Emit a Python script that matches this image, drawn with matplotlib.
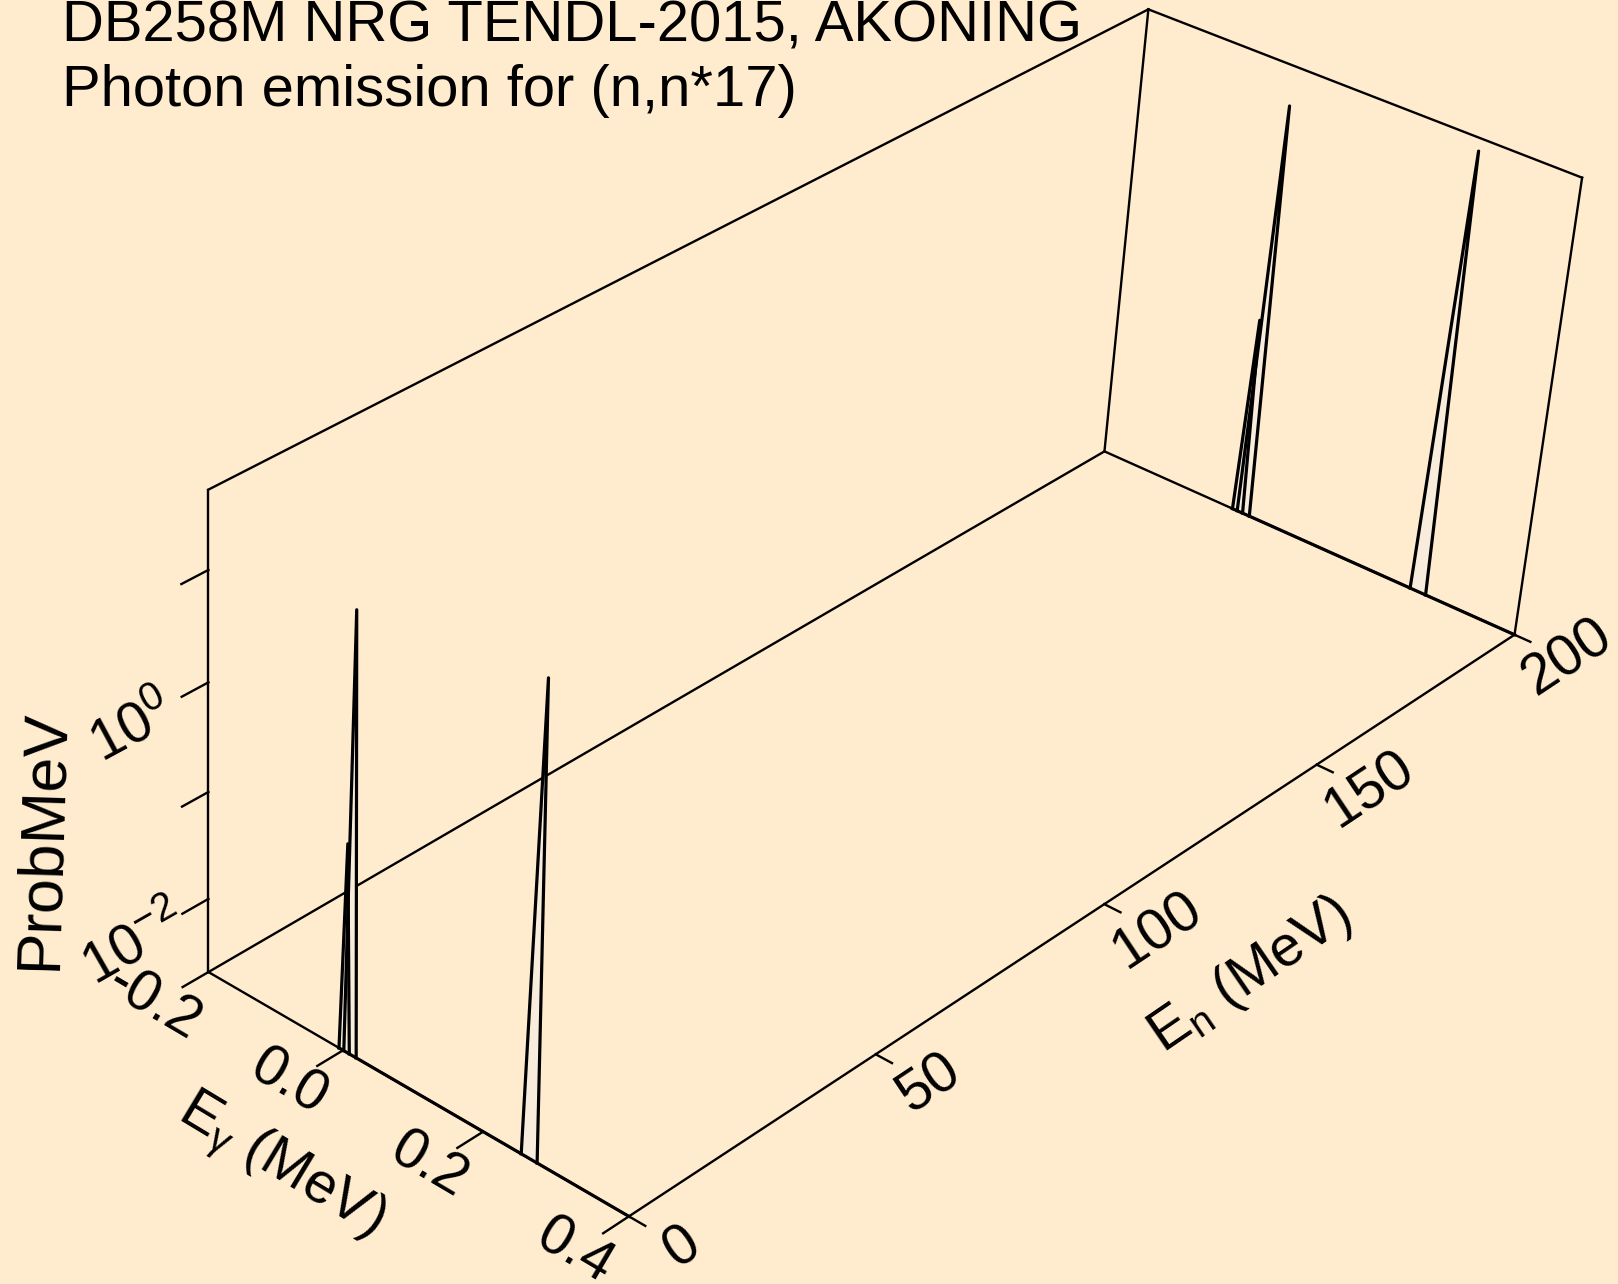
import numpy as np
import matplotlib
matplotlib.use("Agg")
import matplotlib.pyplot as plt
from mpl_toolkits.mplot3d.art3d import Poly3DCollection

plt.rcParams['font.family'] = ['Liberation Sans', 'DejaVu Sans']
plt.rcParams['mathtext.fontset'] = 'custom'
plt.rcParams['mathtext.rm'] = 'Liberation Sans'
plt.rcParams['mathtext.it'] = 'Liberation Sans:italic'
plt.rcParams['mathtext.bf'] = 'Liberation Sans:bold'

bg = '#ffebcd'
fill = '#f8ecdc'

# photon spectrum, same lines at both incident energies
en_curves = [0.0, 200.0]            # E_n of each curve (MeV)
line_lo = [-0.006, 0.001, 0.253]    # E_gamma where a line leaves the floor
line_pk = [0.002, 0.009, 0.265]     # E_gamma at the top of the line
line_hi = [0.009, 0.019, 0.275]     # E_gamma where it is back on the floor
line_prob = [0.17, 21.0, 38.0]      # prob/MeV at the top

eg_lim = [-0.2, 0.4]
en_lim = [0.0, 200.0]
prob_lim = [2e-3, 50.0]
eg_ticks = [-0.2, 0.0, 0.2, 0.4]
eg_labels = ['-0.2', '0.0', '0.2', '0.4']
en_ticks = [0, 50, 100, 150, 200]
p_ticks = [1e-2, 1e-1, 1e0, 1e1]
p_labels = {1e-2: '10$^{-2}$', 1e0: '10$^{0}$'}

zlo, zhi = np.log10(prob_lim)

fig = plt.figure(figsize=(16.18, 12.84), dpi=100, facecolor=bg)
# camera looks at the left vertical edge, not at the box centre
ax = fig.add_axes([-0.208338, -0.017960, 0.656588, 0.827383], projection='3d',
                  computed_zorder=False)
ax.set_facecolor(bg)
ax.set_axis_off()

# box shape and look-at point (fractions of the drawn box)
box = np.array([1.0, 2.6, 1.0])
look = np.array([0.0, 0.0, 0.45])
lo = np.array([eg_lim[0], en_lim[0], zlo])
hi = np.array([eg_lim[1], en_lim[1], zhi])
rng = hi - lo
ctr = lo + look * rng
half = np.maximum(ctr - lo, hi - ctr)
ax.set_xlim(ctr[0] - half[0], ctr[0] + half[0])
ax.set_ylim(ctr[1] - half[1], ctr[1] + half[1])
ax.set_zlim(ctr[2] - half[2], ctr[2] + half[2])
aspect = 2 * half / rng * box
# one box width = one world unit, so the eye (dist 10) is 10 box widths away
ax.set_box_aspect(aspect, zoom=np.linalg.norm(aspect) / (1.8294640721620434 * 25 / 24))
ax.view_init(elev=33.4, azim=-45)
ax.set_proj_type('persp')

x0, x1 = eg_lim
y0, y1 = en_lim
lw_box = 1.7
edges = [
    ([x0, x1], [y0, y0], [zlo, zlo]),
    ([x1, x1], [y0, y1], [zlo, zlo]),
    ([x0, x0], [y0, y1], [zlo, zlo]),
    ([x0, x1], [y1, y1], [zlo, zlo]),
    ([x0, x0], [y0, y0], [zlo, zhi]),
    ([x0, x0], [y1, y1], [zlo, zhi]),
    ([x1, x1], [y1, y1], [zlo, zhi]),
    ([x0, x0], [y0, y1], [zhi, zhi]),
    ([x0, x1], [y1, y1], [zhi, zhi]),
]
for xs, ys, zs in edges:
    ax.plot(xs, ys, zs, color='black', lw=lw_box, zorder=2, clip_on=False)

# ticks
for e in eg_ticks:
    ax.plot([e, e], [y0, y0 - 5], [zlo, zlo], color='black', lw=lw_box, zorder=2, clip_on=False)
for en in en_ticks:
    ax.plot([x1, x1 + 0.022], [en, en], [zlo, zlo], color='black', lw=lw_box, zorder=2, clip_on=False)
for p in p_ticks:
    lz = np.log10(p)
    ax.plot([x0, x0], [y0, y0 - 5], [lz, lz], color='black', lw=lw_box, zorder=2, clip_on=False)

# spectra
for en in en_curves:
    ax.plot([min(line_lo), x1], [en, en], [zlo, zlo], color='black', lw=2.3, zorder=4, clip_on=False)
    for a, b, c, p in zip(line_lo, line_pk, line_hi, line_prob):
        xs = [a, b, c]
        ys = [en, en, en]
        zs = [zlo, np.log10(p), zlo]
        tri = Poly3DCollection([list(zip(xs, ys, zs))], facecolor=fill,
                               edgecolor='none', zorder=3)
        tri.set_clip_on(False)
        ax.add_collection3d(tri)
        ax.plot(xs, ys, zs, color='black', lw=2.3, zorder=4, clip_on=False)

fs = 41
for e, s in zip(eg_ticks, eg_labels):
    ax.text(e, -10.5, zlo, s, zdir='x', ha='center', va='center', fontsize=fs)
for en in en_ticks:
    ax.text(x1 + 0.072, en, zlo, str(en), zdir='y', ha='center', va='center', fontsize=fs)
for p, s in p_labels.items():
    ax.text(x0, -14, np.log10(p) - 0.05, s, zdir='y', ha='center', va='center', fontsize=fs)

# direction tilted a little to +E_gamma so the label reads bottom to top
ax.text(x0, -30.5, -0.60, 'ProbMeV', zdir=(0.008, 0, 1), ha='center', va='center', fontsize=45)
ax.text(0.094, -24.3, zlo, 'E$_{\\mathregular{\\gamma}}$ (MeV)', zdir='x',
        ha='center', va='center', fontsize=fs)
ax.text(0.592, 100.5, zlo, 'E$_{\\mathregular{n}}$ (MeV)', zdir='y',
        ha='center', va='center', fontsize=fs)

fs_title = 41.8
fig.text(62.5 / 1618, 1 - 41.3 / 1284, 'DB258M NRG TENDL-2015, AKONING',
         fontsize=fs_title, va='baseline', ha='left')
fig.text(62.5 / 1618, 1 - 106 / 1284, 'Photon emission for (n,n*17)',
         fontsize=fs_title, va='baseline', ha='left')

fig.savefig('out.png', dpi=100, facecolor=bg)
